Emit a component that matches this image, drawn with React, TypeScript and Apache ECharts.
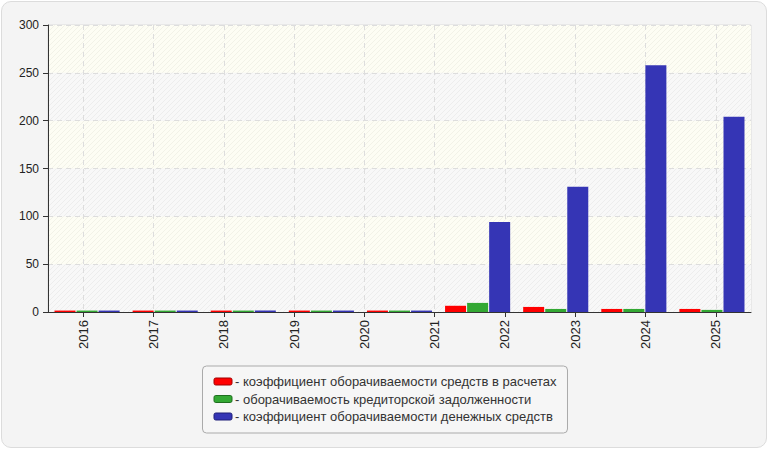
import React, { useEffect, useRef } from "react";
import * as echarts from "echarts";

const yearLabels = ["2016", "2017", "2018", "2019", "2020", "2021", "2022", "2023", "2024", "2025"];
const barSlots = ["1", "2", "3", "4", "5", "6", "7", "8", "9"];
const seriesNames = [
  "коэффициент оборачиваемости средств в расчетах",
  "оборачиваемость кредиторской задолженности",
  "коэффициент оборачиваемости денежных средств",
];
const receivablesTurnover = [1.5, 1.5, 1.5, 1.5, 1.5, 6.5, 5.3, 3.2, 3.2];
const payablesTurnover = [1.5, 1.5, 1.5, 1.5, 1.5, 9.5, 3.2, 3.2, 2.2];
const cashTurnover = [1.5, 1.5, 1.5, 1.5, 1.5, 94, 131, 258, 204];
const yTicks = { min: 0, max: 300, interval: 50 };
const colors = ["#ff0000", "#33a833", "#3535b5"];
const iconBorders = ["#a00000", "#1f6e1f", "#1f1f78"];

function hatch(base: string, line: string) {
  const s = 5;
  const c = document.createElement("canvas");
  c.width = s;
  c.height = s;
  const ctx = c.getContext("2d")!;
  ctx.fillStyle = base;
  ctx.fillRect(0, 0, s, s);
  ctx.strokeStyle = line;
  ctx.lineWidth = 1;
  for (const k of [-s, 0, s]) {
    ctx.beginPath();
    ctx.moveTo(k, s);
    ctx.lineTo(k + s, 0);
    ctx.stroke();
  }
  return { image: c, repeat: "repeat" };
}

export default function App() {
  const ref = useRef<HTMLDivElement>(null);
  useEffect(() => {
    document.body.style.margin = "0";
    const chart = echarts.init(ref.current!, undefined, { renderer: "svg" });
    const font = "'Liberation Sans', Arial, sans-serif";
    const values = [receivablesTurnover, payablesTurnover, cashTurnover];
    chart.setOption({
      animation: false,
      backgroundColor: "transparent",
      textStyle: { fontFamily: font },
      grid: {
        left: 48,
        top: 25,
        right: 19,
        bottom: 138,
        show: true,
        borderColor: "#dcdcdc",
        borderWidth: 1,
        backgroundColor: "transparent",
      },
      legend: {
        orient: "vertical",
        left: "center",
        top: 366,
        backgroundColor: "#f6f6f6",
        borderColor: "#aaaaaa",
        borderWidth: 1,
        borderRadius: 4,
        padding: [9, 11, 10, 11],
        itemWidth: 18,
        itemHeight: 7,
        itemGap: 4.5,
        icon: "roundRect",
        formatter: (n: string) => "- " + n,
        textStyle: { fontSize: 13, color: "#333", fontFamily: font, padding: [0, 0, 0, -2] },
        data: seriesNames.map((n, i) => ({
          name: n,
          itemStyle: { color: colors[i], borderColor: iconBorders[i], borderWidth: 1 },
        })),
      },
      xAxis: [
        {
          type: "category",
          data: yearLabels,
          position: "bottom",
          boundaryGap: true,
          axisLine: { show: true, lineStyle: { color: "#333", width: 1 } },
          axisTick: { show: true, alignWithLabel: true, length: 5, lineStyle: { color: "#333" } },
          axisLabel: { rotate: 90, margin: 8, fontSize: 13, color: "#222", fontFamily: font },
          splitLine: {
            show: true,
            alignWithLabel: true,
            lineStyle: { color: "#dddddd", type: [5, 4], width: 1 },
          },
        },
        {
          type: "category",
          data: barSlots,
          position: "bottom",
          boundaryGap: true,
          axisLine: { show: false },
          axisTick: { show: false },
          axisLabel: { show: false },
          splitLine: { show: false },
        },
      ],
      yAxis: {
        type: "value",
        min: yTicks.min,
        max: yTicks.max,
        interval: yTicks.interval,
        axisLine: { show: true, lineStyle: { color: "#333", width: 1 } },
        axisTick: { show: true, length: 5, lineStyle: { color: "#333" } },
        axisLabel: { margin: 9, fontSize: 12, color: "#222", fontFamily: font },
        splitLine: { show: true, lineStyle: { color: "#dddddd", type: [5, 4], width: 1 } },
        splitArea: {
          show: true,
          areaStyle: {
            color: [hatch("#f8f8f8", "#ededed"), hatch("#fdfdf4", "#f2f2e8")],
          },
        },
      },
      series: seriesNames.map((n, i) => ({
        name: n,
        type: "bar",
        xAxisIndex: 1,
        data: values[i],
        barWidth: 21,
        barGap: "5%",
        itemStyle: { color: colors[i] },
        z: 3,
      })),
    });
    return () => chart.dispose();
  }, []);
  return (
    <div style={{ position: "relative", width: 770, height: 450 }}>
      <div
        style={{
          position: "absolute",
          left: 1,
          top: 1,
          width: 766,
          height: 447,
          boxSizing: "border-box",
          border: "1px solid #dcdcdc",
          borderRadius: 10,
          background: "#f4f4f4",
        }}
      />
      <div ref={ref} style={{ position: "absolute", left: 0, top: 0, width: 770, height: 450 }} />
    </div>
  );
}
